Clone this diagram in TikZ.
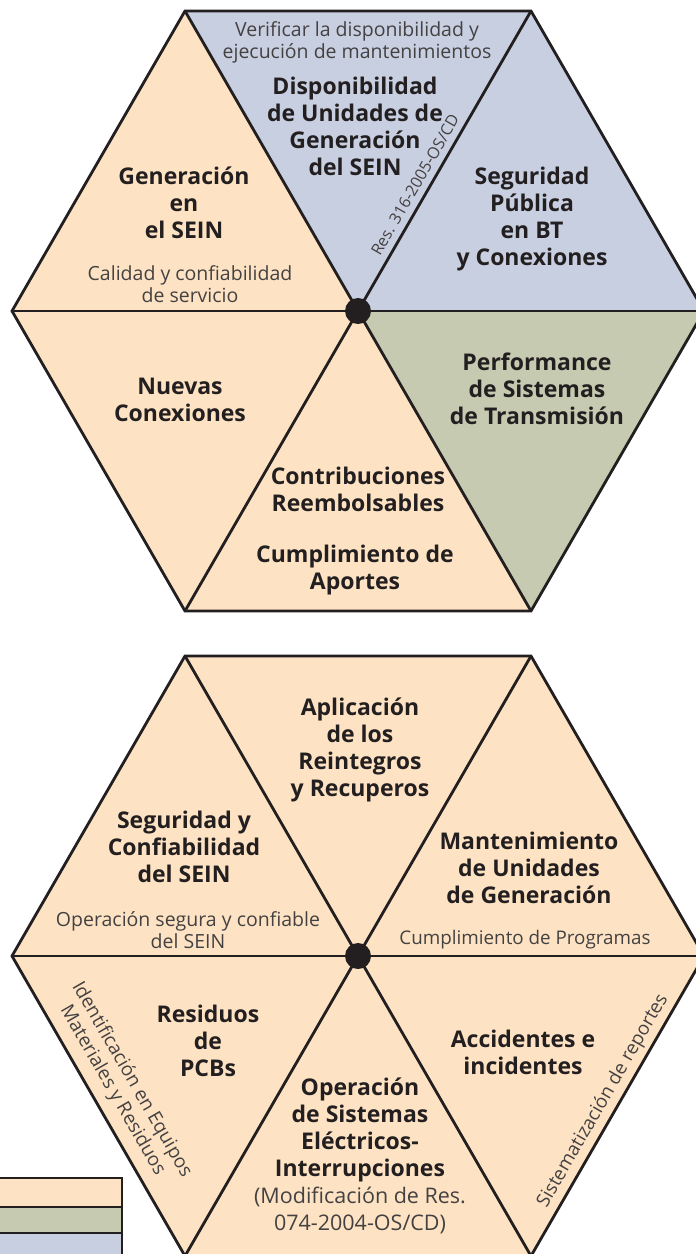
\documentclass[tikz,border=0pt]{standalone}
\usepackage{fontspec}
\setmainfont{Open Sans}
\usepackage{xcolor}
\usepackage{tikz}
\definecolor{peach}{RGB}{253,227,195}
\definecolor{slate}{RGB}{200,207,224}
\definecolor{sage}{RGB}{198,202,176}
\definecolor{ink}{RGB}{35,31,32}

\begin{document}
\begin{tikzpicture}[x=1pt, y=-1pt,
  boldlabel/.style={align=center, text=ink, inner sep=0pt, font=\bfseries\fontsize{23}{27}\selectfont},
  thinlabel/.style={align=center, text=ink!85, inner sep=0pt, font=\fontsize{19.5}{22}\selectfont},
  edge/.style={draw=ink, line width=2.8pt},
  hub/.style={circle, fill=ink, minimum size=26pt, inner sep=0pt}]

\clip (0,0) rectangle (696,1254);
\fill[white] (0,0) rectangle (696,1254);

\coordinate (a0) at (704,311);
\coordinate (a1) at (531,11);
\coordinate (a2) at (185,11);
\coordinate (a3) at (12,311);
\coordinate (a4) at (185,611);
\coordinate (a5) at (531,611);
\coordinate (ca) at (358,311);

\coordinate (b0) at (704,956);
\coordinate (b1) at (531,656);
\coordinate (b2) at (185,656);
\coordinate (b3) at (12,956);
\coordinate (b4) at (185,1256);
\coordinate (b5) at (531,1256);
\coordinate (cb) at (358,956);

\fill[slate] (ca) -- (a2) -- (a1) -- cycle;
\fill[slate] (ca) -- (a1) -- (a0) -- cycle;
\fill[sage] (ca) -- (a0) -- (a5) -- cycle;
\fill[peach] (ca) -- (a5) -- (a4) -- cycle;
\fill[peach] (ca) -- (a4) -- (a3) -- cycle;
\fill[peach] (ca) -- (a3) -- (a2) -- cycle;
\fill[peach] (b0) -- (b1) -- (b2) -- (b3) -- (b4) -- (b5) -- cycle;

\draw[edge] (a0) -- (a1) -- (a2) -- (a3) -- (a4) -- (a5) -- cycle;
\draw[edge] (a0) -- (a3);
\draw[edge] (a1) -- (a4);
\draw[edge] (a2) -- (a5);
\draw[edge] (b0) -- (b1) -- (b2) -- (b3) -- (b4) -- (b5) -- cycle;
\draw[edge] (b0) -- (b3);
\draw[edge] (b1) -- (b4);
\draw[edge] (b2) -- (b5);
\node[hub] (hubA) at (ca) {};
\node[hub] (hubB) at (cb) {};

\node[thinlabel] (verif) at (357,42) {Verificar la disponibilidad y\\ejecución de mantenimientos};
\node[boldlabel] (dispon) at (355,126) {Disponibilidad\\de Unidades de\\Generación\\del SEIN};
\node[thinlabel, font=\fontsize{16}{18}\selectfont, rotate=60] (resol) at (415,185) {Res. 316-2005-OS/CD};
\node[boldlabel] (gener) at (184,203) {Generación\\en\\el SEIN};
\node[thinlabel] (calidad) at (190,284) {Calidad y confiabilidad\\de servicio};
\node[boldlabel] (segpub) at (532,219) {Seguridad\\Pública\\en BT\\y Conexiones};
\node[boldlabel] (nuevas) at (180,400) {Nuevas\\Conexiones};
\node[boldlabel] (perf) at (537,389) {Performance\\de Sistemas\\de Transmisión};
\node[boldlabel] (contrib) at (358,489) {Contribuciones\\Reembolsables};
\node[boldlabel] (aportes) at (355,570) {Cumplimiento de\\Aportes};

\node[boldlabel] (aplic) at (360,750) {Aplicación\\de los\\Reintegros\\y Recuperos};
\node[boldlabel] (segconf) at (184,847) {Seguridad y\\Confiabilidad\\del SEIN};
\node[thinlabel] (opsegura) at (188,930) {Operación segura y confiable\\del SEIN};
\node[boldlabel] (mant) at (529,868) {Mantenimiento\\de Unidades\\de Generación};
\node[thinlabel, font=\fontsize{18.8}{22}\selectfont] (programas) at (525,940) {Cumplimiento de Programas};
\node[boldlabel] (pcb) at (208,1041) {Residuos\\de\\PCBs};
\node[thinlabel, font=\fontsize{19}{22}\selectfont, rotate=-60] (ident) at (122,1085) {Identificación en Equipos\\Materiales y Residuos};
\node[boldlabel] (opsist) at (360,1130) {Operación\\de Sistemas\\Eléctricos-\\Interrupciones};
\node[thinlabel, font=\fontsize{21.5}{27}\selectfont] (modif) at (360,1210) {(Modificación de Res.\\074-2004-OS/CD)};
\node[boldlabel] (accid) at (523,1052) {Accidentes e\\incidentes};
\node[thinlabel, font=\fontsize{18.8}{22}\selectfont, rotate=60] (sistem) at (603,1101) {Sistematización de reportes};

\draw[fill=peach, draw=ink, line width=2pt] (-5,1178) rectangle (122,1207);
\draw[fill=sage, draw=ink, line width=2pt] (-5,1207) rectangle (122,1233);
\draw[fill=slate, draw=ink, line width=2pt] (-5,1233) rectangle (122,1260);

\end{tikzpicture}
\end{document}
